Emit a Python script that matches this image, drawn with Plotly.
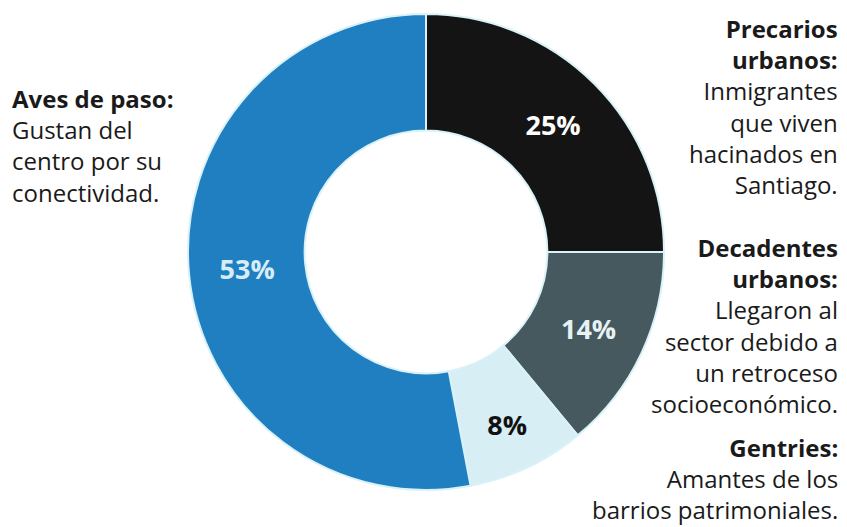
import plotly.graph_objects as go

categories = ["Precarios urbanos", "Decadentes urbanos", "Gentries", "Aves de paso"]
values = [25, 14, 8, 53]
colors = ["#141414", "#46595e", "#d6eef4", "#1f7fc0"]
text_colors = ["#ffffff", "#e6f2f4", "#111111", "#d8ecf8"]

FONT = "Open Sans, Noto Sans, sans-serif"

fig = go.Figure(go.Pie(
    labels=categories,
    values=values,
    hole=0.51,
    sort=False,
    direction="clockwise",
    rotation=0,
    marker=dict(colors=colors, line=dict(color="#d9f2f8", width=2)),
    texttemplate="<b>%{value}%</b>",
    textposition="inside",
    insidetextorientation="horizontal",
    textfont=dict(family=FONT, size=27, color=text_colors),
    domain=dict(x=[188/847, 664/847], y=[1-490/527, 1-14/527]),
    showlegend=False,
    hoverinfo="label+value",
))

annots = [
    dict(x=10/847, y=1-145/527, xanchor="left", align="left",
         text="<b>Aves de paso:</b><br>Gustan del<br>centro por su<br>conectividad."),
    dict(x=840/847, y=1-106/527, xanchor="right", align="right",
         text="<b>Precarios</b><br><b>urbanos:</b><br>Inmigrantes<br>que viven<br>hacinados en<br>Santiago."),
    dict(x=840/847, y=1-325/527, xanchor="right", align="right",
         text="<b>Decadentes</b><br><b>urbanos:</b><br>Llegaron al<br>sector debido a<br>un retroceso<br>socioeconómico."),
    dict(x=840/847, y=1-478/527, xanchor="right", align="right",
         text="<b>Gentries:</b><br>Amantes de los<br>barrios patrimoniales."),
]
for a in annots:
    fig.add_annotation(xref="paper", yref="paper", yanchor="middle", showarrow=False,
                       font=dict(family=FONT, size=24, color="#1a1a1a"), **a)

fig.update_layout(
    width=847, height=527,
    margin=dict(l=0, r=0, t=0, b=0),
    paper_bgcolor="#ffffff",
    plot_bgcolor="#ffffff",
    uniformtext=dict(minsize=22, mode="show"),
)

fig.write_html("out.html")
